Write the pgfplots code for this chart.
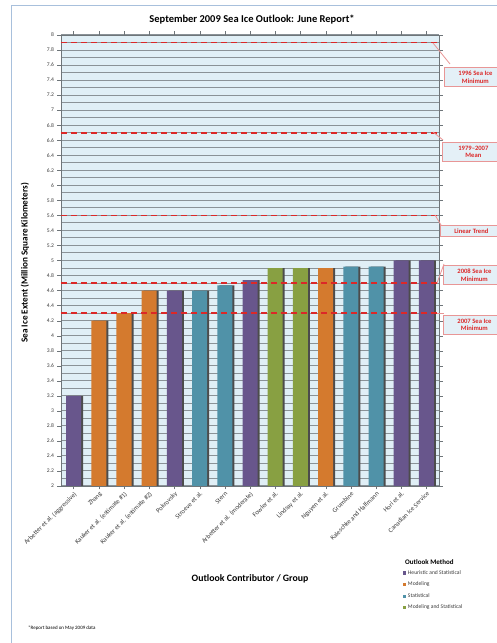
\documentclass[border=0pt]{standalone}
\usepackage{fontspec}
\setmainfont{Carlito}
\usepackage{pgfplots}
\pgfplotsset{compat=1.18}

\definecolor{hstat}{RGB}{104,86,140}
\definecolor{model}{RGB}{212,122,46}
\definecolor{stat}{RGB}{80,146,168}
\definecolor{mstat}{RGB}{136,160,66}
\definecolor{bgc}{RGB}{224,239,246}
\definecolor{gridc}{RGB}{138,146,151}
\definecolor{refred}{RGB}{220,40,40}
\definecolor{boxline}{RGB}{232,150,150}
\definecolor{boxfill}{RGB}{228,240,247}
\definecolor{framec}{RGB}{168,192,220}
\definecolor{tickc}{RGB}{60,60,60}

\begin{document}
\begin{tikzpicture}[x=1pt,y=1pt]
\useasboundingbox (0,0) rectangle (496,643);
\fill[white] (0,0) rectangle (496,643);
\draw[framec, line width=1pt] (11,-5) rectangle (530,637);

\begin{axis}[
    at={(61pt,157pt)}, anchor=south west,
    scale only axis, width=378pt, height=451pt,
    xmin=-0.5, xmax=14.5,
    ymin=2, ymax=8,
    ytick distance=0.2, minor y tick num=1,
    ymajorgrids, yminorgrids,
    grid style={gridc, line width=1pt},
    minor grid style={gridc, line width=1pt},
    axis background/.style={fill=bgc},
    axis line style={gridc!80!black},
    tick align=outside,
    major tick length=3.5pt, minor tick length=0pt,
    tick style={gridc!80!black},
    xtick={0,...,14},
    xticklabels={Arbetter et al. (aggressive), Zhang, Kauker et al. (estimate \#1),
        Kauker et al. (estimate \#2), Pokrovsky, Stroeve et al., Stern,
        Arbetter et al. (moderate), Fowler et al., Lindsay et al., Nguyen et al.,
        Grumbine, Kaleschke and Halfmann, Hori et al., Canadian Ice Service},
    x tick label style={rotate=45, anchor=north east, text=tickc,
        font=\fontsize{6.6}{7}\selectfont, inner sep=1pt},
    y tick label style={text=tickc, font=\fontsize{5.6}{6}\selectfont},
    /pgf/number format/assume math mode=true,
    /pgf/number format/precision=1,
    legend style={at={(0.905,-0.183)}, anchor=north west, draw=none, fill=none,
        font=\fontsize{5.6}{6.5}\selectfont, text=tickc, row sep=3.2pt,
        inner sep=0pt, nodes={inner sep=1.5pt}},
    legend cell align=left,
    legend image code/.code={\fill[#1] (0pt,-1.6pt) rectangle (3.2pt,1.6pt);},
]
% shadows
\addplot[ybar, bar width=15pt, bar shift=2pt, fill=black!70, draw=none, forget plot]
  coordinates {(0,3.2) (1,4.2) (2,4.3) (3,4.6) (4,4.6) (5,4.6) (6,4.67) (7,4.74)
               (8,4.9) (9,4.9) (10,4.9) (11,4.92) (12,4.92) (13,5.0) (14,5.0)};
\addplot[ybar, bar width=15pt, bar shift=0pt, fill=hstat, draw=none]
  coordinates {(0,3.2) (4,4.6) (7,4.74) (13,5.0) (14,5.0)};
\addlegendentry{Heuristic and Statistical}
\addplot[ybar, bar width=15pt, bar shift=0pt, fill=model, draw=none]
  coordinates {(1,4.2) (2,4.3) (3,4.6) (10,4.9)};
\addlegendentry{Modeling}
\addplot[ybar, bar width=15pt, bar shift=0pt, fill=stat, draw=none]
  coordinates {(5,4.6) (6,4.67) (11,4.92) (12,4.92)};
\addlegendentry{Statistical}
\addplot[ybar, bar width=15pt, bar shift=0pt, fill=mstat, draw=none]
  coordinates {(8,4.9) (9,4.9)};
\addlegendentry{Modeling and Statistical}
% reference lines
\addplot[refred, line width=1.6pt, dash pattern=on 6pt off 4pt, forget plot]
  coordinates {(-0.5,7.9) (14.5,7.9)};
\addplot[refred, line width=1.6pt, dash pattern=on 6pt off 4pt, forget plot]
  coordinates {(-0.5,6.7) (14.5,6.7)};
\addplot[refred, line width=1.6pt, dash pattern=on 6pt off 4pt, forget plot]
  coordinates {(-0.5,5.6) (14.5,5.6)};
\addplot[refred, line width=1.6pt, dash pattern=on 6pt off 4pt, forget plot]
  coordinates {(-0.5,4.7) (14.5,4.7)};
\addplot[refred, line width=1.6pt, dash pattern=on 6pt off 4pt, forget plot]
  coordinates {(-0.5,4.3) (14.5,4.3)};
\end{axis}

% titles
\node[font=\bfseries\fontsize{10.5}{12}\selectfont] at (252,623) {September 2009 Sea Ice Outlook: June Report*};
\node[font=\bfseries\fontsize{9.8}{11}\selectfont] at (250,64) {Outlook Contributor / Group};
\node[font=\bfseries\fontsize{9.2}{11}\selectfont, rotate=90] at (25,380) {Sea Ice Extent (Million Square Kilometers)};
\node[font=\bfseries\fontsize{7}{8}\selectfont, anchor=west, inner sep=0pt] at (405,81) {Outlook Method};
\node[font=\fontsize{5}{6}\selectfont, anchor=west, inner sep=0pt] at (28,15) {*Report based on May 2009 data};

% callouts
\tikzset{callout/.style={draw=boxline, fill=boxfill, text=refred, line width=0.8pt,
  font=\bfseries\fontsize{6.6}{7.6}\selectfont, align=center, minimum width=62pt,
  inner sep=3.5pt, anchor=west}}
\draw[boxline, line width=0.8pt] (433,600) -- (450,579);
\draw[boxline, line width=0.8pt] (433,511) -- (443,503);
\draw[boxline, line width=0.8pt] (435,428) -- (441,418);
\draw[boxline, line width=0.8pt] (437,360) -- (444,379);
\draw[boxline, line width=0.8pt] (437,330) -- (444,330);
\node[callout] at (444,566) {1996 Sea Ice\\Minimum};
\node[callout] at (442,491) {1979--2007\\Mean};
\node[callout] at (440,412) {Linear Trend};
\node[callout] at (443,368) {2008 Sea Ice\\Minimum};
\node[callout] at (443,318) {2007 Sea Ice\\Minimum};
\end{tikzpicture}
\end{document}
